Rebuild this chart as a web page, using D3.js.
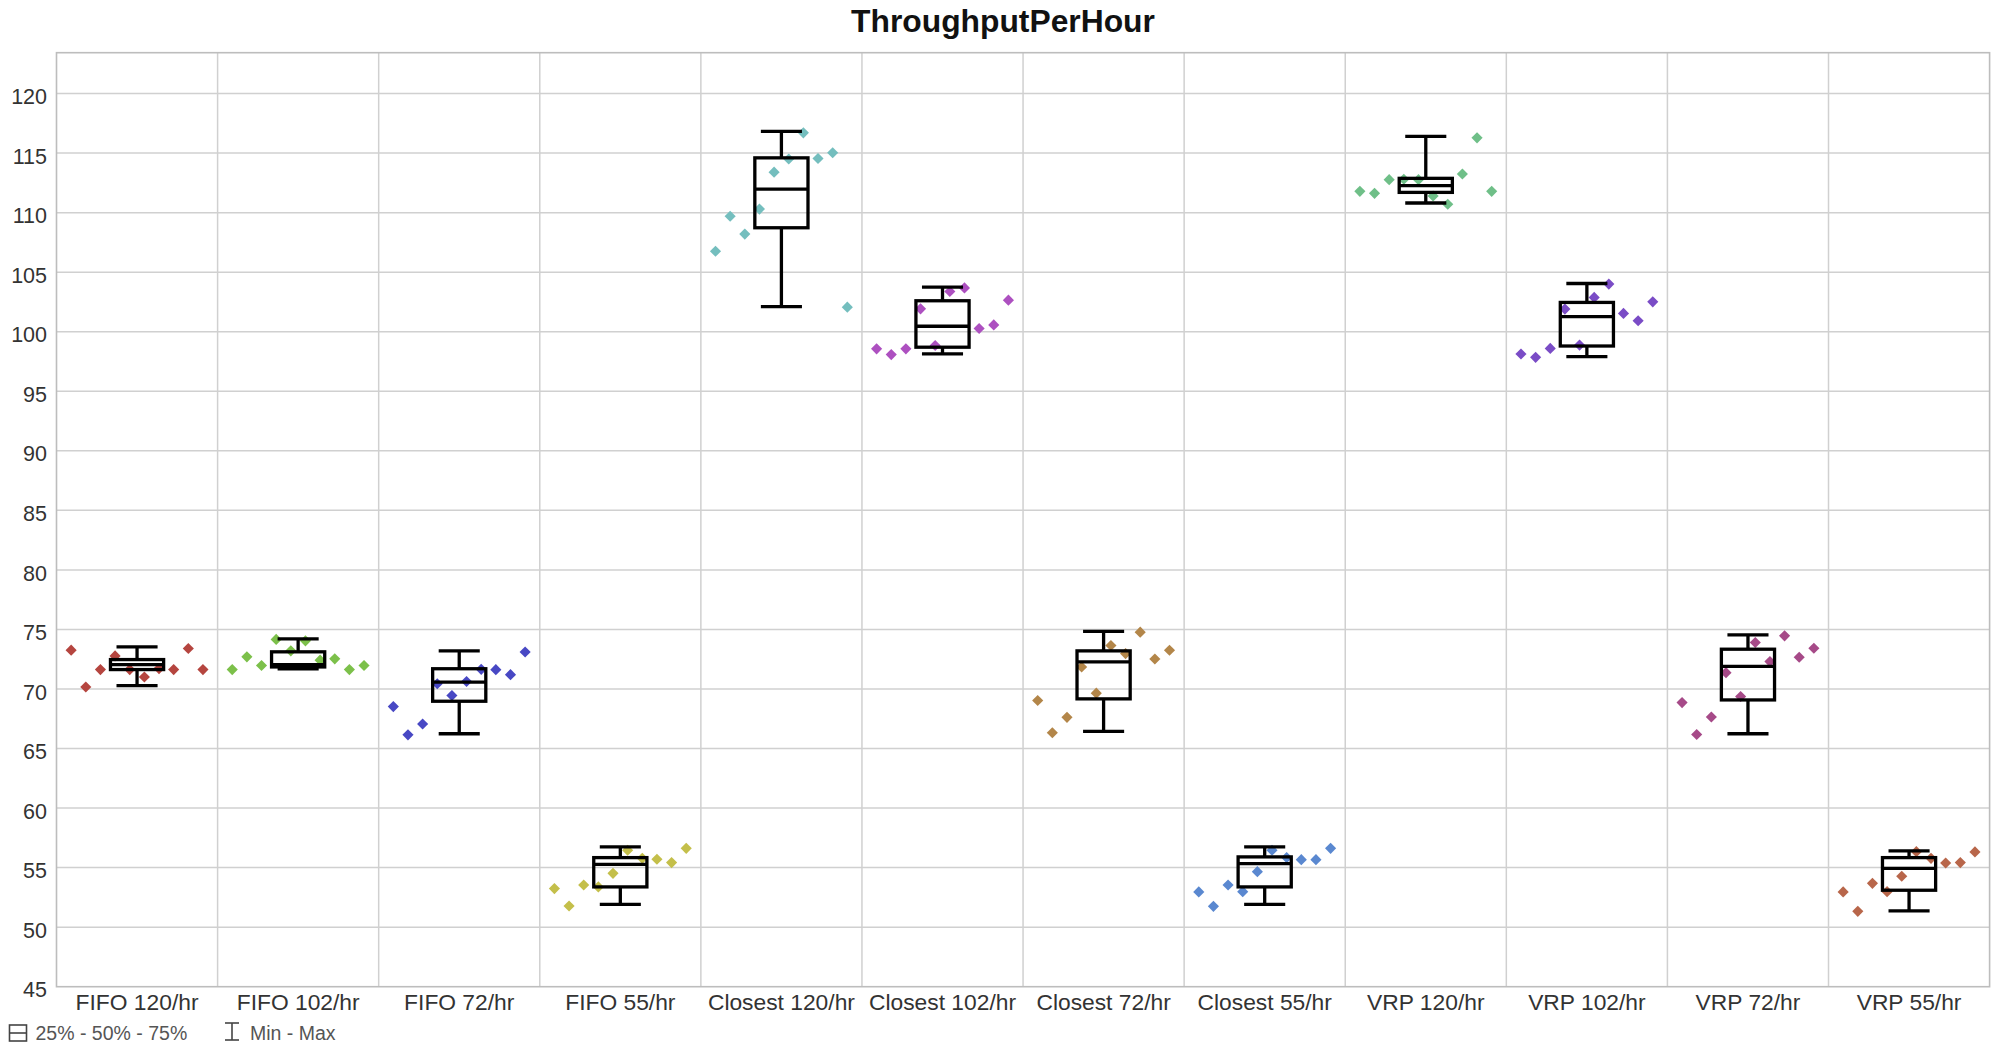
<!DOCTYPE html>
<html>
<head>
<meta charset="utf-8">
<script src="https://cdn.jsdelivr.net/npm/d3@7"></script>
<style>
  html, body { margin: 0; padding: 0; background: #fff; }
  svg { display: block; font-family: "Liberation Sans", Arial, sans-serif; }
</style>
</head>
<body>
<svg id="chart" width="2014" height="1061"></svg>
<script>
// ---------------- DATA ----------------
const title = "ThroughputPerHour";
const categories = ["FIFO 120/hr","FIFO 102/hr","FIFO 72/hr","FIFO 55/hr",
  "Closest 120/hr","Closest 102/hr","Closest 72/hr","Closest 55/hr",
  "VRP 120/hr","VRP 102/hr","VRP 72/hr","VRP 55/hr"];
const yTicks = [45,50,55,60,65,70,75,80,85,90,95,100,105,110,115,120];

const boxMin    = [70.28, 71.69, 66.24, 51.92, 102.10, 98.14, 66.44, 51.92, 110.81, 97.91, 66.24, 51.36];
const boxQ1     = [71.63, 71.85, 68.97, 53.38, 108.73, 98.70, 69.17, 53.38, 111.70, 98.80, 69.08, 53.10];
const boxMedian = [72.05, 72.05, 70.58, 55.28, 111.97, 100.46, 72.27, 55.34, 112.26, 101.26, 71.90, 54.94];
const boxQ3     = [72.47, 73.12, 71.70, 55.84, 114.60, 102.60, 73.20, 55.90, 112.88, 102.46, 73.34, 55.84];
const boxMax    = [73.54, 74.20, 73.20, 56.74, 116.82, 103.74, 74.83, 56.74, 116.40, 104.05, 74.55, 56.40];

const runsFIFO120    = [73.26, 70.17, 71.63, 72.78, 71.63, 71.01, 71.71, 71.63, 73.40, 71.63];
const runsFIFO102    = [71.63, 72.70, 71.97, 74.16, 73.20, 74.04, 72.42, 72.53, 71.63, 71.97];
const runsFIFO72     = [68.52, 66.15, 67.06, 70.44, 69.45, 70.63, 71.65, 71.62, 71.20, 73.11];
const runsFIFO55     = [53.24, 51.78, 53.54, 53.38, 54.52, 56.46, 55.78, 55.70, 55.42, 56.62];
const runsClosest120 = [106.76, 109.70, 108.20, 110.30, 113.40, 114.50, 116.70, 114.55, 115.03, 102.06];
const runsClosest102 = [98.56, 98.08, 98.56, 101.92, 98.84, 103.38, 103.68, 100.27, 100.57, 102.65];
const runsClosest72  = [69.03, 66.32, 67.62, 71.85, 69.65, 73.65, 72.97, 74.77, 72.52, 73.25];
const runsClosest55  = [52.96, 51.75, 53.54, 52.98, 54.66, 56.46, 55.84, 55.67, 55.67, 56.62];
const runsVRP120     = [111.79, 111.62, 112.77, 112.80, 112.77, 111.40, 110.70, 113.24, 116.28, 111.79];
const runsVRP102     = [98.13, 97.85, 98.60, 101.90, 98.88, 102.88, 104.00, 101.54, 100.92, 102.51];
const runsVRP72      = [68.86, 66.18, 67.65, 71.37, 69.37, 73.90, 72.30, 74.46, 72.66, 73.42];
const runsVRP55      = [52.96, 51.33, 53.68, 52.98, 54.27, 56.34, 55.78, 55.39, 55.42, 56.32];

const pointColors = ["#b5453f","#7cc04a","#4848c4","#c4bf4a","#74bebe","#ad50c0",
  "#b38649","#5a88d0","#6fbf88","#7a4cc6","#a64a88","#b8664a"];

const legendLabels = ["25% - 50% - 75%", "Min - Max"];

// ---------------- CHART ----------------
const runs = [runsFIFO120, runsFIFO102, runsFIFO72, runsFIFO55,
  runsClosest120, runsClosest102, runsClosest72, runsClosest55,
  runsVRP120, runsVRP102, runsVRP72, runsVRP55];

const svg = d3.select("#chart");
const plotL = 56.5, plotR = 1989.6, plotT = 52.7, plotB = 986.7;

const x = d3.scaleBand().domain(categories).range([plotL, plotR]).padding(0);
const y = d3.scaleLinear().domain([45, 123.43]).range([plotB, plotT]);
const bw = x.bandwidth();

// title
svg.append("text")
  .attr("x", 1003).attr("y", 31.5)
  .attr("text-anchor", "middle")
  .attr("font-weight", "bold")
  .attr("font-size", 31.8)
  .attr("fill", "#111")
  .text(title);

// gridlines
const grid = svg.append("g").attr("stroke", "#d0d0d0").attr("stroke-width", 1.5);
grid.selectAll("line.h").data(yTicks.filter(t => t > 45)).join("line")
  .attr("class", "h")
  .attr("x1", plotL).attr("x2", plotR)
  .attr("y1", d => y(d)).attr("y2", d => y(d));
grid.selectAll("line.v").data(categories.slice(1)).join("line")
  .attr("class", "v")
  .attr("x1", d => x(d)).attr("x2", d => x(d))
  .attr("y1", plotT).attr("y2", plotB);

// border
svg.append("rect")
  .attr("x", plotL).attr("y", plotT)
  .attr("width", plotR - plotL).attr("height", plotB - plotT)
  .attr("fill", "none").attr("stroke", "#bdbdbd").attr("stroke-width", 1.6);

// y axis
const yAxis = svg.append("g")
  .attr("transform", `translate(${plotL},0)`)
  .call(d3.axisLeft(y).tickValues(yTicks).tickSize(0).tickPadding(9.5).tickFormat(d3.format("d")));
yAxis.select(".domain").remove();
yAxis.selectAll("text")
  .attr("font-family", "Liberation Sans, Arial, sans-serif")
  .attr("font-size", 21.5).attr("fill", "#333").attr("dy", "0.47em");

// x axis
const xAxis = svg.append("g")
  .attr("transform", `translate(0,${plotB})`)
  .call(d3.axisBottom(x).tickSize(0).tickPadding(7.5));
xAxis.select(".domain").remove();
xAxis.selectAll("text")
  .attr("font-family", "Liberation Sans, Arial, sans-serif")
  .attr("font-size", 22.8).attr("fill", "#333");

// points
const diamond = d3.symbol().type(d3.symbolSquare).size(62);
categories.forEach((cat, i) => {
  const px = d3.scalePoint().domain(d3.range(runs[i].length))
    .range([x(cat), x(cat) + bw]).padding(1);
  svg.append("g").selectAll("path").data(runs[i]).join("path")
    .attr("d", diamond)
    .attr("fill", pointColors[i])
    .attr("transform", (d, j) => `translate(${px(j)},${y(d)}) rotate(45)`);
});

// boxes
const boxes = svg.append("g").attr("stroke", "#000").attr("stroke-width", 3.3).attr("fill", "none");
categories.forEach((cat, i) => {
  const cx = x(cat) + bw / 2;
  const bW = bw * 0.33, cW = bw * 0.255;
  const g = boxes.append("g");
  g.append("line").attr("x1", cx).attr("x2", cx).attr("y1", y(boxMax[i])).attr("y2", y(boxQ3[i]));
  g.append("line").attr("x1", cx).attr("x2", cx).attr("y1", y(boxQ1[i])).attr("y2", y(boxMin[i]));
  g.append("line").attr("x1", cx - cW / 2).attr("x2", cx + cW / 2).attr("y1", y(boxMax[i])).attr("y2", y(boxMax[i]));
  g.append("line").attr("x1", cx - cW / 2).attr("x2", cx + cW / 2).attr("y1", y(boxMin[i])).attr("y2", y(boxMin[i]));
  g.append("rect").attr("x", cx - bW / 2).attr("width", bW)
    .attr("y", y(boxQ3[i])).attr("height", y(boxQ1[i]) - y(boxQ3[i]));
  g.append("line").attr("x1", cx - bW / 2).attr("x2", cx + bW / 2).attr("y1", y(boxMedian[i])).attr("y2", y(boxMedian[i]));
});

// legend
const lg = svg.append("g").attr("stroke", "#444").attr("stroke-width", 1.6).attr("fill", "none");
lg.append("rect").attr("x", 9.5).attr("y", 1025).attr("width", 17).attr("height", 16);
lg.append("line").attr("x1", 9.5).attr("x2", 26.5).attr("y1", 1033).attr("y2", 1033);
lg.append("line").attr("x1", 232).attr("x2", 232).attr("y1", 1023).attr("y2", 1040);
lg.append("line").attr("x1", 225).attr("x2", 239).attr("y1", 1023).attr("y2", 1023);
lg.append("line").attr("x1", 225).attr("x2", 239).attr("y1", 1040).attr("y2", 1040);
svg.append("text").attr("x", 35.5).attr("y", 1040).attr("font-size", 19.5).attr("fill", "#555").text(legendLabels[0]);
svg.append("text").attr("x", 250).attr("y", 1040).attr("font-size", 19.5).attr("fill", "#555").text(legendLabels[1]);
</script>
</body>
</html>
